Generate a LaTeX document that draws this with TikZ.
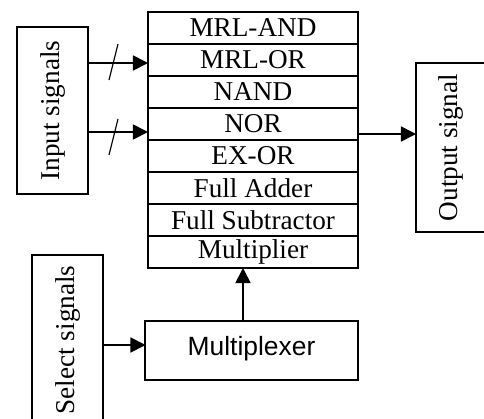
\documentclass[tikz,border=0pt]{standalone}
\usepackage{fontspec}
\setmainfont{Liberation Serif}
\newfontfamily\muxfont{Liberation Sans}
\usetikzlibrary{arrows.meta}

\begin{document}
\begin{tikzpicture}[x=0.5pt,y=-0.5pt,
	every node/.style={font=\fontsize{13.6}{15}\selectfont},
	box/.style={draw,line width=0.8pt,inner sep=0pt,outer sep=0pt},
	gate/.style={box,minimum width=105pt,minimum height=16pt},
	sig/.style={line width=0.9pt,-{Triangle[length=7.5pt,width=7.5pt]}},
	bus/.style={line width=0.6pt}]
	\useasboundingbox (0,0) rectangle (484,419);
	\clip (0,0) rectangle (484,419);
	% function stack
	\foreach \name [count=\i] in {MRL-AND,MRL-OR,NAND,NOR,EX-OR,Full Adder,Full Subtractor,Multiplier}
		\node[gate] (r\i) at (253,{32*\i-4}) {\name};
	% side boxes
	\node[box,minimum width=35.5pt,minimum height=83.5pt] (inp) at (52.5,110.5) {\rotatebox{90}{Input signals}};
	\node[box,minimum width=35pt,minimum height=84.5pt] (out) at (451,147.5) {\rotatebox{90}{Output signal}};
	\node[box,minimum width=35.5pt,minimum height=85pt] (sel) at (67.5,340) {\rotatebox{90}{Select signals}};
	\node[box,minimum width=106.5pt,minimum height=29.5pt] (mux) at (251.5,350.5) {\muxfont\fontsize{13.2}{15}\selectfont\raisebox{5pt}{Multiplexer}};
	% arrow ends
	\coordinate (in1) at (148,63);
	\coordinate (in2) at (148,132);
	\coordinate (o1) at (358,134);
	\coordinate (m1) at (243,268);
	\coordinate (s1) at (145.5,345);
	\draw[sig] (inp.east |- in1) -- (in1);
	\draw[sig] (inp.east |- in2) -- (in2);
	\draw[sig] (o1) -- (out.west |- o1);
	\draw[sig] (mux.north -| m1) -- (m1);
	\draw[sig] (sel.east |- s1) -- (s1);
	% bus slashes
	\draw[bus] (109,80) -- (118,44);
	\draw[bus] (109,155) -- (118,119);
\end{tikzpicture}
\end{document}
